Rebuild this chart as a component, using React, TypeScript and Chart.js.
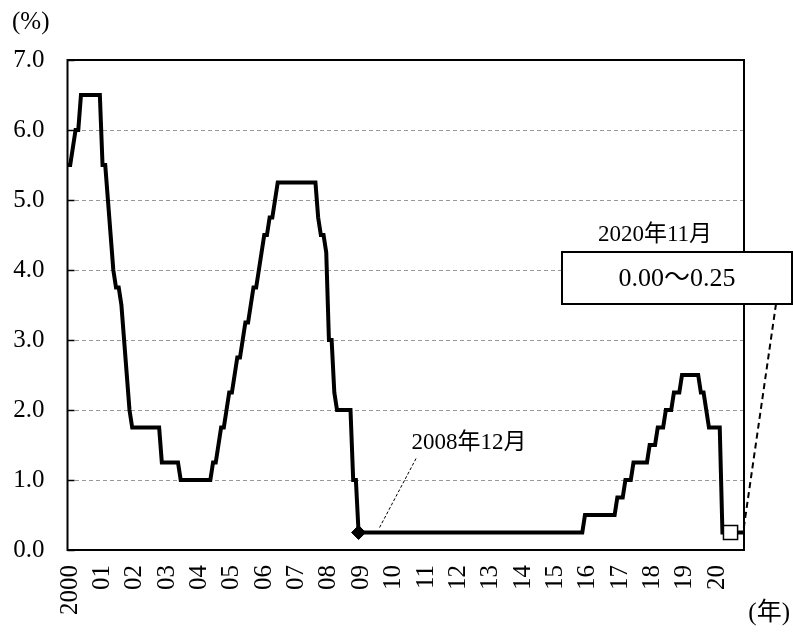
import React, { useEffect, useRef } from 'react';
import { Chart, registerables } from 'chart.js';

Chart.register(...registerables);

// Year tick labels (shown at each January)
const yearTickLabels = ['2000', '01', '02', '03', '04', '05', '06', '07', '08', '09', '10',
  '11', '12', '13', '14', '15', '16', '17', '18', '19', '20'];

// Policy rate (%), month-end values, Dec 1999 .. Nov 2020
const rateDec1999 = [5.5];
const rate2000 = [5.5, 5.75, 6.0, 6.0, 6.5, 6.5, 6.5, 6.5, 6.5, 6.5, 6.5, 6.5];
const rate2001 = [5.5, 5.5, 5.0, 4.5, 4.0, 3.75, 3.75, 3.5, 3.0, 2.5, 2.0, 1.75];
const rate2002 = [1.75, 1.75, 1.75, 1.75, 1.75, 1.75, 1.75, 1.75, 1.75, 1.75, 1.25, 1.25];
const rate2003 = [1.25, 1.25, 1.25, 1.25, 1.25, 1.0, 1.0, 1.0, 1.0, 1.0, 1.0, 1.0];
const rate2004 = [1.0, 1.0, 1.0, 1.0, 1.0, 1.25, 1.25, 1.5, 1.75, 1.75, 2.0, 2.25];
const rate2005 = [2.25, 2.5, 2.75, 2.75, 3.0, 3.25, 3.25, 3.5, 3.75, 3.75, 4.0, 4.25];
const rate2006 = [4.5, 4.5, 4.75, 4.75, 5.0, 5.25, 5.25, 5.25, 5.25, 5.25, 5.25, 5.25];
const rate2007 = [5.25, 5.25, 5.25, 5.25, 5.25, 5.25, 5.25, 5.25, 4.75, 4.5, 4.5, 4.25];
const rate2008 = [3.0, 3.0, 2.25, 2.0, 2.0, 2.0, 2.0, 2.0, 2.0, 1.0, 1.0, 0.25];
const rate2009 = [0.25, 0.25, 0.25, 0.25, 0.25, 0.25, 0.25, 0.25, 0.25, 0.25, 0.25, 0.25];
const rate2010 = [0.25, 0.25, 0.25, 0.25, 0.25, 0.25, 0.25, 0.25, 0.25, 0.25, 0.25, 0.25];
const rate2011 = [0.25, 0.25, 0.25, 0.25, 0.25, 0.25, 0.25, 0.25, 0.25, 0.25, 0.25, 0.25];
const rate2012 = [0.25, 0.25, 0.25, 0.25, 0.25, 0.25, 0.25, 0.25, 0.25, 0.25, 0.25, 0.25];
const rate2013 = [0.25, 0.25, 0.25, 0.25, 0.25, 0.25, 0.25, 0.25, 0.25, 0.25, 0.25, 0.25];
const rate2014 = [0.25, 0.25, 0.25, 0.25, 0.25, 0.25, 0.25, 0.25, 0.25, 0.25, 0.25, 0.25];
const rate2015 = [0.25, 0.25, 0.25, 0.25, 0.25, 0.25, 0.25, 0.25, 0.25, 0.25, 0.25, 0.5];
const rate2016 = [0.5, 0.5, 0.5, 0.5, 0.5, 0.5, 0.5, 0.5, 0.5, 0.5, 0.5, 0.75];
const rate2017 = [0.75, 0.75, 1.0, 1.0, 1.0, 1.25, 1.25, 1.25, 1.25, 1.25, 1.25, 1.5];
const rate2018 = [1.5, 1.5, 1.75, 1.75, 1.75, 2.0, 2.0, 2.0, 2.25, 2.25, 2.25, 2.5];
const rate2019 = [2.5, 2.5, 2.5, 2.5, 2.5, 2.5, 2.25, 2.25, 2.0, 1.75, 1.75, 1.75];
const rate2020 = [1.75, 1.75, 0.25, 0.25, 0.25, 0.25, 0.25, 0.25, 0.25, 0.25, 0.25];

const yearlyRates = [rate2000, rate2001, rate2002, rate2003, rate2004, rate2005, rate2006,
  rate2007, rate2008, rate2009, rate2010, rate2011, rate2012, rate2013, rate2014, rate2015,
  rate2016, rate2017, rate2018, rate2019, rate2020];

// Marked points
const diamondMonth = '2008-12';
const diamondValue = 0.25;
const squareMonth = '2020-06';
const squareValue = 0.25;

// Annotation texts
const note2008 = '2008年12月';
const note2020Title = '2020年11月';
const note2020Value = '0.00〜0.25';
const yUnit = '(%)';
const xUnit = '(年)';

const monthLabels: string[] = ['1999-12'];
yearlyRates.forEach((arr, yi) => {
  arr.forEach((_, mi) => {
    monthLabels.push(`${2000 + yi}-${String(mi + 1).padStart(2, '0')}`);
  });
});
const rates: number[] = [...rateDec1999, ...yearlyRates.flat()];

const FONT = '"Liberation Serif", "Noto Sans CJK JP", serif';

const decorPlugin = {
  id: 'decor',
  afterDatasetsDraw(chart: any) {
    const { ctx, chartArea: a, scales } = chart;
    const xs = scales.x;
    const ys = scales.y;
    ctx.save();
    // inward y tick marks
    ctx.strokeStyle = '#000';
    ctx.lineWidth = 1.5;
    ys.ticks.forEach((t: any) => {
      const py = Math.round(ys.getPixelForValue(t.value)) + 0.5;
      ctx.beginPath();
      ctx.moveTo(a.left, py);
      ctx.lineTo(a.left + 7, py);
      ctx.stroke();
    });
    // frame
    ctx.lineWidth = 2;
    ctx.strokeRect(a.left, a.top, a.right - a.left, a.bottom - a.top);

    ctx.fillStyle = '#000';
    ctx.textBaseline = 'middle';

    // 2008-12 annotation
    const di = monthLabels.indexOf(diamondMonth);
    const px = xs.getPixelForValue(di);
    const py = ys.getPixelForValue(diamondValue);
    ctx.lineWidth = 1;
    ctx.setLineDash([3, 2]);
    ctx.beginPath();
    ctx.moveTo(px + 21, py - 5);
    ctx.lineTo(px + 58, py - 75);
    ctx.stroke();
    ctx.setLineDash([]);
    ctx.font = `23px ${FONT}`;
    ctx.textAlign = 'left';
    ctx.fillText(note2008, px + 53, py - 90);

    // 2020-11 annotation box
    const si = monthLabels.indexOf(squareMonth);
    const qx = xs.getPixelForValue(si);
    const qy = ys.getPixelForValue(squareValue);
    const boxL = a.right - 182, boxT = a.top + 192, boxW = 230, boxH = 52;
    ctx.lineWidth = 2;
    ctx.setLineDash([6, 4]);
    ctx.beginPath();
    ctx.moveTo(boxL + 214, boxT + boxH);
    ctx.lineTo(qx + 13, qy - 3);
    ctx.stroke();
    ctx.setLineDash([]);
    ctx.fillStyle = '#fff';
    ctx.fillRect(boxL, boxT, boxW, boxH);
    ctx.strokeStyle = '#000';
    ctx.lineWidth = 2;
    ctx.strokeRect(boxL, boxT, boxW, boxH);
    ctx.fillStyle = '#000';
    ctx.textAlign = 'center';
    ctx.font = `23px ${FONT}`;
    ctx.fillText(note2020Title, boxL + 93, boxT - 17);
    ctx.font = `26px ${FONT}`;
    ctx.fillText(note2020Value, boxL + 115, boxT + 27);

    // unit labels
    ctx.font = `25px ${FONT}`;
    ctx.textAlign = 'left';
    ctx.fillText(yUnit, 12, 22);
    ctx.textAlign = 'right';
    ctx.fillText(xUnit, chart.width - 3, chart.height - 19);
    ctx.restore();
  },
};

export default function App() {
  const ref = useRef<HTMLCanvasElement | null>(null);
  useEffect(() => {
    document.body.style.margin = '0';
    const canvas = ref.current;
    if (!canvas) return;
    const diamondData = monthLabels.map((l) => (l === diamondMonth ? diamondValue : null));
    const squareData = monthLabels.map((l) => (l === squareMonth ? squareValue : null));
    const chart = new Chart(canvas, {
      type: 'line',
      data: {
        labels: monthLabels,
        datasets: [
          {
            label: 'diamond',
            data: diamondData,
            showLine: false,
            pointStyle: 'rectRot',
            pointRadius: 7,
            pointBackgroundColor: '#000',
            pointBorderColor: '#000',
            pointBorderWidth: 1,
            order: 1,
          },
          {
            label: 'square',
            data: squareData,
            showLine: false,
            pointStyle: 'rect',
            pointRadius: 10,
            pointBackgroundColor: '#fff',
            pointBorderColor: '#000',
            pointBorderWidth: 1.5,
            order: 1,
          },
          {
            label: 'rate',
            data: rates,
            borderColor: '#000',
            borderWidth: 4,
            pointRadius: 0,
            tension: 0,
            fill: false,
            order: 2,
          },
        ],
      },
      options: {
        responsive: false,
        animation: false,
        events: [],
        layout: { padding: { top: 60, right: 49, bottom: 0, left: 0 } },
        plugins: { legend: { display: false }, tooltip: { enabled: false } },
        scales: {
          x: {
            type: 'category',
            offset: false,
            grid: { display: false, drawTicks: false },
            border: { display: false },
            afterFit: (s: any) => { s.height = 82; },
            ticks: {
              autoSkip: false,
              minRotation: 90,
              maxRotation: 90,
              padding: 15,
              color: '#000',
              font: { family: FONT, size: 25 },
              callback: (value: any, index: number) => {
                const lab = monthLabels[index];
                if (lab && lab.endsWith('-01')) {
                  return yearTickLabels[Number(lab.slice(0, 4)) - 2000];
                }
                return '';
              },
            },
          },
          y: {
            min: 0,
            max: 7,
            afterFit: (s: any) => { s.width = 67.5; },
            grid: { color: '#999', lineWidth: 1, drawTicks: false },
            border: { display: false, dash: [4, 3] },
            ticks: {
              stepSize: 1,
              padding: 23,
              color: '#000',
              font: { family: FONT, size: 25 },
              callback: (v: any) => Number(v).toFixed(1),
            },
          },
        },
      },
      plugins: [decorPlugin],
    });
    return () => chart.destroy();
  }, []);
  return (
    <div style={{ width: 793, height: 632 }}>
      <canvas ref={ref} width={793} height={632} style={{ display: 'block' }} />
    </div>
  );
}
